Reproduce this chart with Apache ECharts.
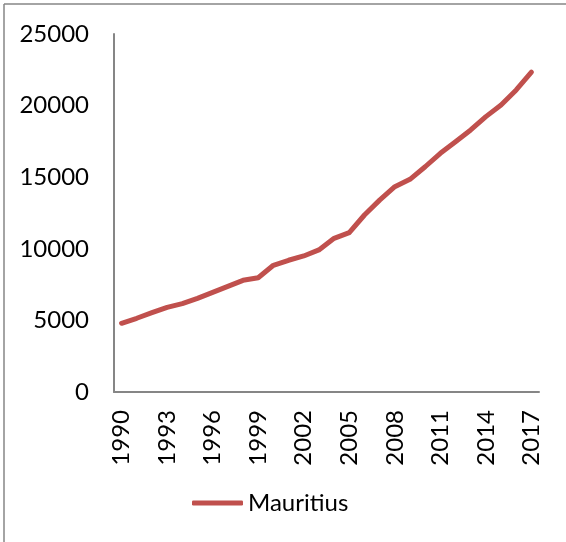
<!DOCTYPE html>
<html>
<head>
<meta charset="utf-8">
<script src="https://cdn.jsdelivr.net/npm/echarts@6/dist/echarts.min.js"></script>
<style>
  html, body { margin: 0; padding: 0; background: #fff; }
  #chart { width: 566px; height: 542px; }
</style>
</head>
<body>
<div id="chart"></div>
<script>
var years = [];
for (var y = 1990; y <= 2017; y++) years.push(String(y));

var seriesName = 'Mauritius';
var values = [4800, 5150, 5540, 5910, 6170, 6540, 6960, 7380, 7800, 7980,
              8850, 9200, 9500, 9920, 10730, 11130, 12360, 13400, 14340, 14850,
              15730, 16670, 17480, 18300, 19230, 20040, 21090, 22330];

var yTicks = [0, 5000, 10000, 15000, 20000, 25000];

var font = 'Lato, "Open Sans", sans-serif';
var axisGray = '#868686';

var myChart = echarts.init(document.getElementById('chart'));

var option = {
    animation: false,
    graphic: [
        // frame edges that show in the picture (top and left)
        { type: 'line', shape: { x1: 4, y1: 4, x2: 566, y2: 4 }, style: { stroke: axisGray, lineWidth: 1.5 } },
        { type: 'line', shape: { x1: 4, y1: 4, x2: 4, y2: 542 }, style: { stroke: axisGray, lineWidth: 1.5 } }
    ],
    grid: { left: 114, right: 27, top: 34, bottom: 150 },
    legend: {
        left: 192,
        top: 491,
        padding: 0,
        icon: 'roundRect',
        itemWidth: 51,
        itemHeight: 5,
        itemGap: 5,
        textStyle: { fontFamily: font, fontSize: 24, color: '#000' },
        data: [seriesName]
    },
    xAxis: {
        type: 'category',
        data: years,
        boundaryGap: true,
        axisLine: { lineStyle: { color: axisGray, width: 2 } },
        axisTick: { show: false },
        axisLabel: {
            interval: 2,
            rotate: 90,
            margin: 18,
            fontFamily: font,
            fontSize: 24,
            color: '#000'
        }
    },
    yAxis: {
        type: 'value',
        min: yTicks[0],
        max: yTicks[yTicks.length - 1],
        interval: yTicks[1] - yTicks[0],
        axisLine: { show: true, lineStyle: { color: axisGray, width: 2 } },
        axisTick: { show: false },
        splitLine: { show: false },
        axisLabel: {
            margin: 25,
            fontFamily: font,
            fontSize: 24,
            color: '#000',
            formatter: function (v) { return String(v); }
        }
    },
    series: [{
        name: seriesName,
        type: 'line',
        data: values,
        symbol: 'none',
        lineStyle: { color: '#C0504D', width: 5, cap: 'round', join: 'round' },
        itemStyle: { color: '#C0504D' }
    }]
};

myChart.setOption(option);
</script>
</body>
</html>
